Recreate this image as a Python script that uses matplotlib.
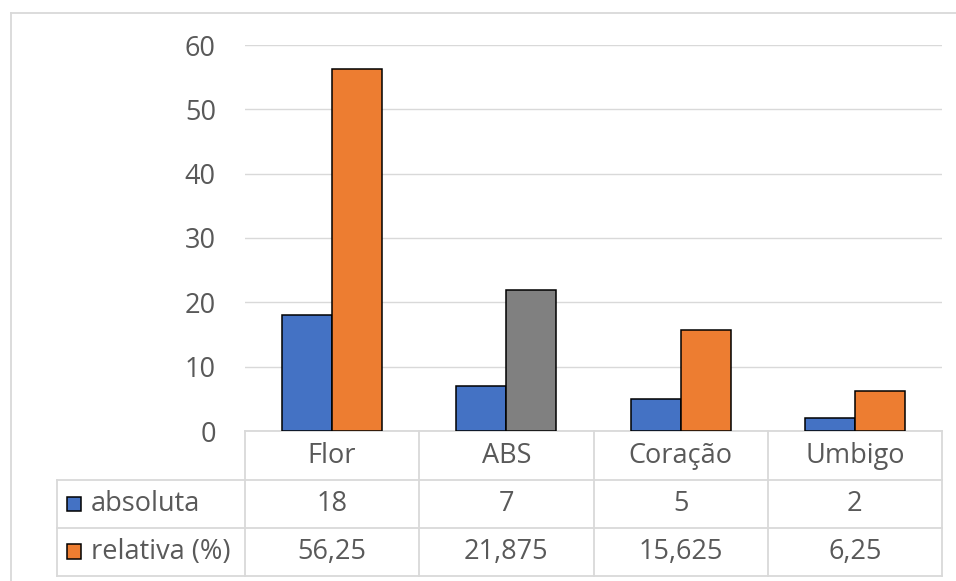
import matplotlib.pyplot as plt
from matplotlib.patches import Rectangle
from matplotlib.lines import Line2D

plt.rcParams['font.family'] = ['Open Sans', 'DejaVu Sans']

categorias = ['Flor', 'ABS', 'Coração', 'Umbigo']
absoluta = [18, 7, 5, 2]
relativa = [56.25, 21.875, 15.625, 6.25]
absoluta_txt = ['18', '7', '5', '2']
relativa_txt = ['56,25', '21,875', '15,625', '6,25']
series = ['absoluta', 'relativa (%)']

azul = '#4472C4'
laranja = '#ED7D31'
cinza = '#808080'
cor_relativa = [laranja, cinza, laranja, laranja]
texto = '#595959'
linha = '#D9D9D9'
fs = 19.5

W, H = 956, 581
fig = plt.figure(figsize=(W / 100, H / 100), dpi=100)
ax = fig.add_axes([245 / W, 150 / H, 697 / W, 386 / H])

x = range(len(categorias))
w = 0.287
ax.bar([i - w / 2 for i in x], absoluta, w, color=azul, edgecolor='black', linewidth=1.1, zorder=3)
ax.bar([i + w / 2 for i in x], relativa, w, color=cor_relativa, edgecolor='black', linewidth=1.1, zorder=3)

ax.set_xlim(-0.5, 3.5)
ax.set_ylim(0, 60)
ax.set_yticks(range(0, 61, 10))
ax.yaxis.grid(True, color=linha, linewidth=1.0, zorder=0)
ax.tick_params(axis='y', length=0, pad=21, labelsize=fs, labelcolor=texto)
ax.set_xticks([])
for s in ['top', 'right', 'left']:
    ax.spines[s].set_visible(False)
ax.spines['bottom'].set_color(linha)
ax.spines['bottom'].set_linewidth(1.3)

# data table below the axis
tr = ax.get_xaxis_transform()
rows = [0, -0.127, -0.251, -0.375]
xl = -1.579
kw = dict(transform=tr, color=linha, linewidth=1.3, clip_on=False)
for b in [-0.5, 0.5, 1.5, 2.5, 3.5]:
    ax.add_line(Line2D([b, b], [rows[0], rows[3]], **kw))
ax.add_line(Line2D([xl, xl], [rows[1], rows[3]], **kw))
for r in rows[1:]:
    ax.add_line(Line2D([xl, 3.5], [r, r], **kw))

def mid(k):
    return (rows[k] + rows[k + 1]) / 2

for i, c in enumerate(categorias):
    ax.text(i, mid(0), c, transform=tr, ha='center', va='center', fontsize=fs, color=texto)
    ax.text(i, mid(1), absoluta_txt[i], transform=tr, ha='center', va='center', fontsize=fs, color=texto)
    ax.text(i, mid(2), relativa_txt[i], transform=tr, ha='center', va='center', fontsize=fs, color=texto)

for k, (nome, cor) in enumerate(zip(series, [azul, laranja])):
    y = mid(k + 1)
    ax.add_patch(Rectangle((xl + 0.058, y - 0.019), 0.08, 0.038, transform=tr, facecolor=cor,
                           edgecolor='black', linewidth=1.1, clip_on=False))
    ax.text(xl + 0.195, y, nome, transform=tr, ha='left', va='center', fontsize=fs, color=texto)

# chart border
fig.add_artist(Line2D([11 / W, 11 / W], [0, 1 - 13 / H], transform=fig.transFigure, color=linha, linewidth=1.3))
fig.add_artist(Line2D([11 / W, 1], [1 - 13 / H, 1 - 13 / H], transform=fig.transFigure, color=linha, linewidth=1.3))

fig.savefig('out.png', dpi=100)
